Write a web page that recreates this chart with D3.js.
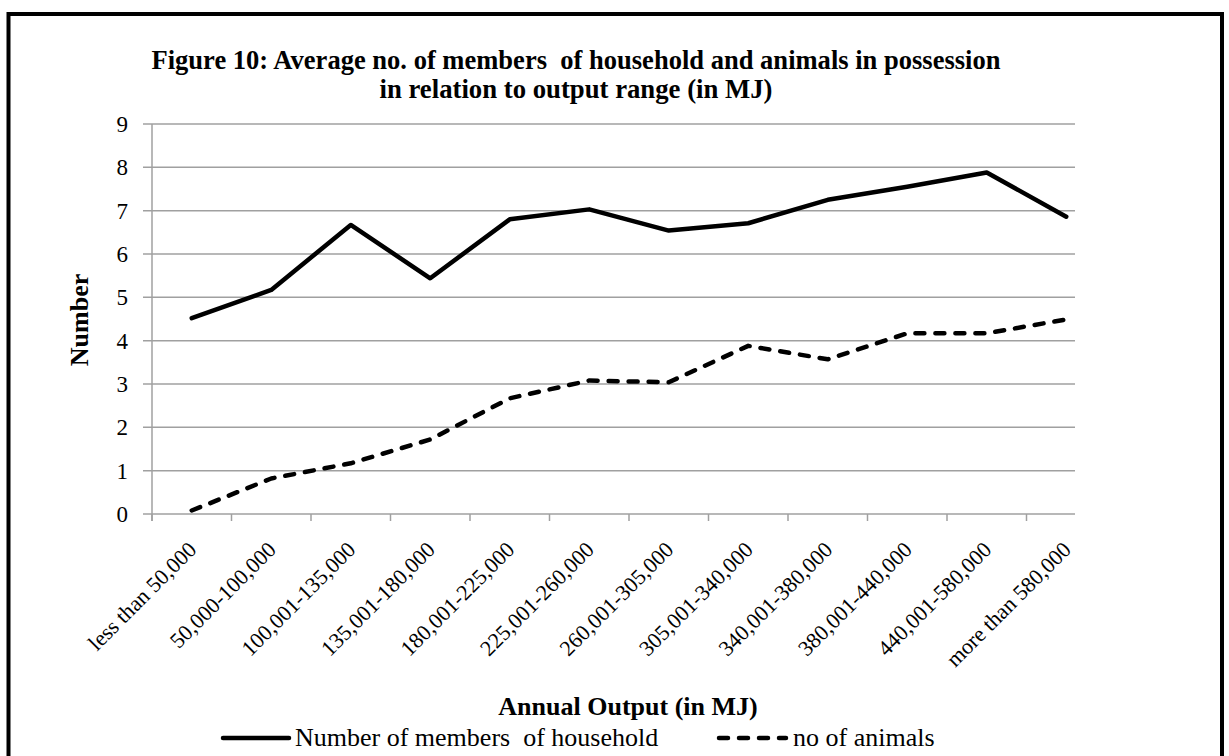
<!DOCTYPE html>
<html>
  <head>
    <meta charset="utf-8">
    <style type="text/css">
      body { margin: 0; background: #fff; }
      svg text { font-family: "Liberation Serif", "Times New Roman", serif; fill: #000; white-space: pre; }
    </style>
  </head>
  <body>
    <div id="canvas"></div>

    <script type="text/javascript" src="https://cdn.jsdelivr.net/npm/d3@7/dist/d3.min.js"></script>
    <script type="text/javascript">
      // categories and series
      var categories = ["less than 50,000", "50,000-100,000", "100,001-135,000", "135,001-180,000",
                        "180,001-225,000", "225,001-260,000", "260,001-305,000", "305,001-340,000",
                        "340,001-380,000", "380,001-440,000", "440,001-580,000", "more than 580,000"];
      var members = [4.52, 5.17, 6.67, 5.44, 6.80, 7.03, 6.54, 6.71, 7.25, 7.55, 7.88, 6.86];
      var animals = [0.08, 0.82, 1.17, 1.72, 2.67, 3.08, 3.04, 3.88, 3.57, 4.17, 4.17, 4.49];
      var yTicks = [0, 1, 2, 3, 4, 5, 6, 7, 8, 9];
      var seriesNames = ["Number of members  of household", "no of animals"];

      (function () {
        var width = 1229, height = 756;
        var left = 152, plotRight = 1075, top = 124, bottom = 514;
        var grey = "#a0a0a0";

        var svg = d3.select("#canvas").append("svg")
            .attr("width", width)
            .attr("height", height);

        // outer frame (open at the bottom, the original is cut there)
        svg.append("path")
            .attr("d", "M8.5," + height + "V14H1222V" + height)
            .attr("fill", "none")
            .attr("stroke", "#000")
            .attr("stroke-width", 4);

        var x = d3.scaleBand().domain(categories).range([left, 1106]).padding(0);
        var y = d3.scaleLinear().domain([0, 9]).range([bottom, top]);
        var cx = function (c) { return x(c) + x.bandwidth() / 2; };

        // gridlines + y tick labels
        svg.selectAll("line.grid").data(yTicks).enter().append("line")
            .attr("x1", left - 9).attr("x2", plotRight)
            .attr("y1", function (d) { return y(d); })
            .attr("y2", function (d) { return y(d); })
            .attr("stroke", grey).attr("stroke-width", 1.5);

        svg.selectAll("text.ytick").data(yTicks).enter().append("text")
            .attr("x", 128)
            .attr("y", function (d) { return y(d); })
            .attr("dy", "0.35em")
            .attr("text-anchor", "end")
            .style("font-size", "23px")
            .text(function (d) { return d; });

        // y axis line
        svg.append("line")
            .attr("x1", left).attr("x2", left)
            .attr("y1", top).attr("y2", bottom + 7)
            .attr("stroke", grey).attr("stroke-width", 1.5);

        // x tick marks at category boundaries
        svg.selectAll("line.xtick").data(categories).enter().append("line")
            .attr("x1", function (d) { return x(d); })
            .attr("x2", function (d) { return x(d); })
            .attr("y1", bottom).attr("y2", bottom + 7)
            .attr("stroke", grey).attr("stroke-width", 1.5);

        // rotated category labels
        svg.selectAll("text.cat").data(categories).enter().append("text")
            .attr("text-anchor", "end")
            .attr("transform", function (d) {
              return "translate(" + (cx(d) + 6) + "," + (bottom + 37) + ") rotate(-45)";
            })
            .style("font-size", "22px")
            .text(function (d) { return d; });

        // series lines
        var line = d3.line()
            .x(function (d, i) { return cx(categories[i]); })
            .y(function (d) { return y(d); });

        svg.append("path")
            .datum(members)
            .attr("d", line)
            .attr("fill", "none")
            .attr("stroke", "#000")
            .attr("stroke-width", 4.5)
            .attr("stroke-linejoin", "round")
            .attr("stroke-linecap", "round");

        svg.append("path")
            .datum(animals)
            .attr("d", line)
            .attr("fill", "none")
            .attr("stroke", "#000")
            .attr("stroke-width", 4.5)
            .attr("stroke-dasharray", "9,11")
            .attr("stroke-linejoin", "round")
            .attr("stroke-linecap", "round");

        // chart title
        var title = svg.append("text")
            .attr("text-anchor", "middle")
            .style("font-size", "27px")
            .style("font-weight", "bold");
        title.append("tspan").attr("x", 576).attr("y", 69)
            .attr("textLength", 849).attr("lengthAdjust", "spacingAndGlyphs")
            .text("Figure 10: Average no. of members  of household and animals in possession");
        title.append("tspan").attr("x", 576).attr("y", 98)
            .attr("textLength", 393).attr("lengthAdjust", "spacingAndGlyphs")
            .text("in relation to output range (in MJ)");

        // axis titles
        svg.append("text")
            .attr("transform", "translate(88,320) rotate(-90)")
            .attr("text-anchor", "middle")
            .style("font-size", "26px")
            .style("font-weight", "bold")
            .text("Number");

        svg.append("text")
            .attr("x", 628).attr("y", 715)
            .attr("text-anchor", "middle")
            .style("font-size", "26px")
            .style("font-weight", "bold")
            .text("Annual Output (in MJ)");

        // legend
        var legend = [
          { name: seriesNames[0], x1: 223, x2: 289, dash: null, tx: 295 },
          { name: seriesNames[1], x1: 719, x2: 786, dash: "9,11", tx: 793 }
        ];
        var lg = svg.selectAll("g.legend").data(legend).enter().append("g");
        lg.append("line")
            .attr("x1", function (d) { return d.x1; })
            .attr("x2", function (d) { return d.x2; })
            .attr("y1", 738).attr("y2", 738)
            .attr("stroke", "#000").attr("stroke-width", 4.5)
            .attr("stroke-dasharray", function (d) { return d.dash; })
            .attr("stroke-linecap", "round");
        lg.append("text")
            .attr("x", function (d) { return d.tx; })
            .attr("y", 746)
            .style("font-size", "26px")
            .text(function (d) { return d.name; });
      })();
    </script>
  </body>
</html>
